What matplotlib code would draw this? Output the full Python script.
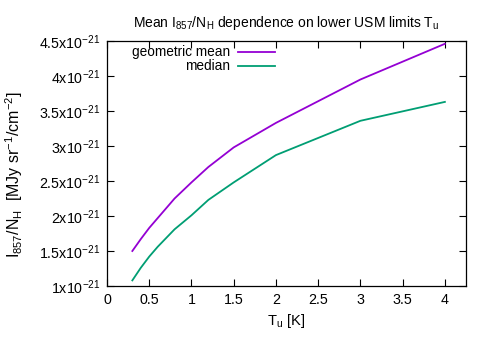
import matplotlib
matplotlib.use("Agg")
import matplotlib.pyplot as plt
from matplotlib.ticker import FuncFormatter, MultipleLocator

plt.rcParams['font.family'] = ['Liberation Sans', 'DejaVu Sans']
plt.rcParams['mathtext.fontset'] = 'custom'
plt.rcParams['mathtext.rm'] = 'Liberation Sans'
plt.rcParams['mathtext.it'] = 'Liberation Sans'
plt.rcParams['mathtext.bf'] = 'Liberation Sans'

tu = [0.3, 0.4, 0.5, 0.6, 0.8, 1.0, 1.2, 1.5, 2.0, 3.0, 4.0]
geo_mean = [1.50e-21, 1.67e-21, 1.83e-21, 1.97e-21, 2.25e-21, 2.48e-21, 2.70e-21,
            2.98e-21, 3.33e-21, 3.95e-21, 4.46e-21]
median = [1.08e-21, 1.26e-21, 1.42e-21, 1.56e-21, 1.81e-21, 2.01e-21, 2.23e-21,
          2.48e-21, 2.87e-21, 3.36e-21, 3.63e-21]

purple = '#9400d3'
green = '#009e73'

fig = plt.figure(figsize=(4.91, 3.43), dpi=100)
ax = fig.add_axes([107/491, 1-286/343, 359/491, 245/343])

ax.plot(tu, geo_mean, color=purple, lw=1.3)
ax.plot(tu, median, color=green, lw=1.3)

ax.set_xlim(0, 4.25)
ax.set_ylim(1e-21, 4.5e-21)
ax.xaxis.set_major_locator(MultipleLocator(0.5))
ax.yaxis.set_major_locator(MultipleLocator(0.5e-21))

def yfmt(v, pos):
    m = v / 1e-21
    s = ('%g' % round(m, 2))
    return s + r'x10$^{-21}$'

def xfmt(v, pos):
    return '%g' % v

ax.yaxis.set_major_formatter(FuncFormatter(yfmt))
ax.xaxis.set_major_formatter(FuncFormatter(xfmt))
ax.yaxis.offsetText.set_visible(False)
ax.xaxis.offsetText.set_visible(False)
ax.tick_params(direction='in', top=True, right=True, labelsize=10.3, length=5, width=0.8, pad=5)
for s in ax.spines.values():
    s.set_linewidth(0.9)

ax.set_title(r'Mean I$_{857}$/N$_{\rm H}$ dependence on lower USM limits T$_{\rm u}$', fontsize=10, pad=10)
ax.set_xlabel(r'T$_{\rm u}$ [K]', fontsize=10.5, labelpad=4)
ax.set_ylabel(r'I$_{857}$/N$_{\rm H}$  [MJy sr$^{-1}$/cm$^{-2}$]', fontsize=11.5)
ax.yaxis.set_label_coords(-0.228, 0.453)

# key (gnuplot style: right-aligned text, sample after)
ax.text(0.343, 0.955, 'geometric mean', transform=ax.transAxes, ha='right', va='center', fontsize=9.8)
ax.plot([0.365, 0.468], [0.955, 0.955], transform=ax.transAxes, color=purple, lw=1.3)
ax.text(0.343, 0.898, 'median', transform=ax.transAxes, ha='right', va='center', fontsize=9.8)
ax.plot([0.365, 0.468], [0.898, 0.898], transform=ax.transAxes, color=green, lw=1.3)

fig.savefig('out.png', dpi=100)
